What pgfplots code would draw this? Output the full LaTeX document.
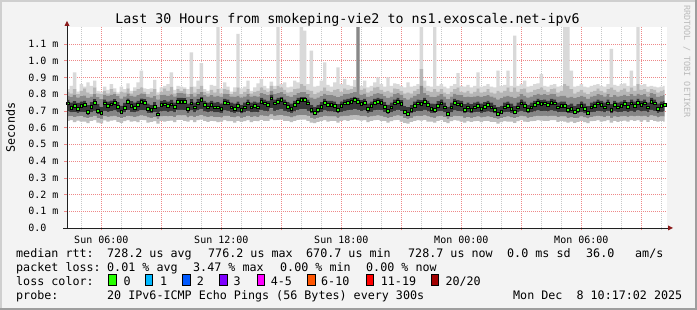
\documentclass[border=0pt]{standalone}
\usepackage{fontspec}
\setmainfont{DejaVu Sans Mono}
\usepackage{pgfplots}
\pgfplotsset{compat=1.18}
\usepackage{pgfplotstable}
\definecolor{bgc}{HTML}{F3F3F3}
\definecolor{sha}{HTML}{CFCFCF}
\definecolor{shb}{HTML}{9E9E9E}
\definecolor{gridc}{HTML}{C8C8C8}
\definecolor{mgridc}{HTML}{EE8888}
\definecolor{arrowc}{HTML}{8B1A1A}
\definecolor{axisc}{HTML}{202020}
\definecolor{wmc}{HTML}{BBBBBB}
\definecolor{s1}{HTML}{BEBEBE}
\definecolor{s2}{HTML}{858585}
\definecolor{s3}{HTML}{383838}
\definecolor{s4}{HTML}{888888}
\definecolor{s5}{HTML}{B6B6B6}
\definecolor{s6}{HTML}{D9D9D9}
\definecolor{lc0}{HTML}{26FF00}
\definecolor{lc1}{HTML}{00B8FF}
\definecolor{lc2}{HTML}{0059FF}
\definecolor{lc3}{HTML}{7E00FF}
\definecolor{lc45}{HTML}{FF00FF}
\definecolor{lc610}{HTML}{FF5500}
\definecolor{lc1119}{HTML}{FF0000}
\definecolor{lc20}{HTML}{A10000}
\begin{document}
\pgfplotstableread{
m lo a b c d e hi med
260 0.640 0.665 0.695 0.765 0.790 0.815 0.830 0.745
270 0.645 0.668 0.690 0.750 0.785 0.805 0.850 0.720
280 0.632 0.662 0.692 0.758 0.795 0.830 0.930 0.730
290 0.642 0.665 0.688 0.748 0.780 0.800 0.815 0.715
300 0.635 0.667 0.694 0.756 0.788 0.820 0.860 0.730
310 0.636 0.660 0.692 0.760 0.792 0.835 0.845 0.735
320 0.626 0.655 0.675 0.735 0.778 0.810 0.870 0.695
330 0.640 0.664 0.690 0.752 0.786 0.800 0.850 0.725
340 0.645 0.670 0.700 0.770 0.800 0.840 0.880 0.750
350 0.630 0.656 0.680 0.740 0.782 0.805 0.820 0.700
360 0.625 0.652 0.672 0.725 0.770 0.800 0.815 0.690
370 0.643 0.668 0.700 0.768 0.796 0.820 0.845 0.745
380 0.636 0.664 0.694 0.756 0.790 0.805 0.825 0.730
390 0.642 0.666 0.698 0.762 0.795 0.830 0.860 0.740
400 0.645 0.670 0.702 0.770 0.800 0.815 0.835 0.750
410 0.634 0.662 0.690 0.752 0.788 0.800 0.810 0.725
420 0.628 0.655 0.678 0.730 0.775 0.815 0.845 0.695
430 0.638 0.662 0.690 0.748 0.786 0.810 0.830 0.720
440 0.645 0.670 0.705 0.775 0.805 0.835 0.865 0.755
450 0.636 0.665 0.694 0.758 0.790 0.805 0.820 0.730
460 0.638 0.662 0.690 0.750 0.786 0.820 0.840 0.720
470 0.632 0.666 0.696 0.760 0.794 0.830 0.870 0.735
480 0.646 0.672 0.705 0.775 0.805 0.840 0.940 0.755
490 0.645 0.670 0.702 0.770 0.800 0.815 0.835 0.750
500 0.630 0.660 0.688 0.745 0.784 0.800 0.830 0.715
510 0.634 0.658 0.684 0.738 0.780 0.815 0.835 0.705
520 0.638 0.663 0.692 0.752 0.788 0.830 0.885 0.725
530 0.624 0.652 0.670 0.722 0.768 0.795 0.810 0.680
540 0.640 0.666 0.696 0.760 0.794 0.815 0.840 0.735
550 0.636 0.668 0.700 0.764 0.796 0.835 0.850 0.740
560 0.640 0.665 0.694 0.756 0.790 0.820 0.860 0.730
570 0.642 0.668 0.700 0.765 0.798 0.845 0.930 0.740
580 0.632 0.662 0.690 0.750 0.786 0.805 0.825 0.725
590 0.646 0.672 0.706 0.778 0.806 0.830 0.850 0.755
600 0.646 0.672 0.706 0.778 0.806 0.820 0.845 0.755
610 0.640 0.672 0.705 0.776 0.805 0.830 0.840 0.755
620 0.636 0.660 0.688 0.745 0.784 0.800 0.830 0.715
630 0.644 0.670 0.702 0.770 0.800 0.845 1.050 0.745
640 0.632 0.662 0.690 0.750 0.786 0.810 0.845 0.721
650 0.644 0.670 0.702 0.770 0.800 0.830 0.880 0.745
660 0.648 0.675 0.710 0.785 0.812 0.850 0.985 0.765
670 0.640 0.666 0.696 0.760 0.794 0.815 0.830 0.735
680 0.634 0.662 0.690 0.750 0.786 0.805 0.820 0.721
690 0.640 0.666 0.696 0.760 0.794 0.825 0.855 0.735
700 0.638 0.662 0.690 0.750 0.786 0.810 0.850 0.721
710 0.632 0.662 0.690 0.752 0.790 0.830 1.200 0.721
720 0.636 0.660 0.688 0.745 0.784 0.805 0.835 0.715
730 0.645 0.670 0.702 0.772 0.802 0.830 0.870 0.749
740 0.638 0.670 0.700 0.768 0.800 0.825 0.845 0.745
750 0.638 0.662 0.690 0.750 0.786 0.800 0.815 0.721
760 0.630 0.660 0.688 0.745 0.784 0.815 0.840 0.715
770 0.640 0.665 0.694 0.756 0.790 0.840 1.160 0.729
780 0.634 0.658 0.684 0.738 0.780 0.800 0.835 0.705
790 0.638 0.662 0.690 0.750 0.786 0.815 0.845 0.721
800 0.644 0.670 0.700 0.768 0.800 0.830 0.880 0.745
810 0.632 0.662 0.690 0.750 0.786 0.805 0.820 0.721
820 0.640 0.665 0.694 0.756 0.790 0.815 0.840 0.729
830 0.638 0.662 0.690 0.750 0.786 0.820 0.865 0.721
840 0.646 0.672 0.706 0.778 0.806 0.840 0.890 0.755
850 0.640 0.670 0.700 0.768 0.800 0.825 0.850 0.745
860 0.640 0.666 0.696 0.760 0.794 0.815 0.835 0.735
870 0.650 0.678 0.715 0.795 0.820 0.850 0.875 0.775
880 0.644 0.670 0.700 0.768 0.800 0.830 0.850 0.745
890 0.646 0.672 0.706 0.778 0.806 0.850 1.200 0.755
900 0.648 0.675 0.710 0.785 0.812 0.840 0.860 0.765
910 0.640 0.670 0.700 0.768 0.800 0.825 0.870 0.745
920 0.640 0.665 0.694 0.755 0.790 0.810 0.840 0.725
930 0.632 0.660 0.688 0.745 0.784 0.815 0.845 0.715
940 0.640 0.666 0.696 0.760 0.794 0.830 0.880 0.735
950 0.646 0.672 0.706 0.778 0.806 0.835 0.870 0.755
960 0.648 0.675 0.710 0.785 0.812 0.860 1.200 0.765
970 0.648 0.675 0.710 0.785 0.812 0.850 1.180 0.765
980 0.640 0.670 0.700 0.768 0.800 0.825 0.860 0.745
990 0.630 0.658 0.684 0.738 0.780 0.820 1.060 0.709
1000 0.626 0.652 0.672 0.725 0.772 0.800 0.845 0.689
1010 0.634 0.658 0.684 0.738 0.780 0.810 0.850 0.705
1020 0.640 0.664 0.692 0.752 0.788 0.820 0.880 0.725
1030 0.645 0.670 0.702 0.772 0.802 0.840 0.990 0.749
1040 0.636 0.666 0.696 0.760 0.794 0.820 0.855 0.735
1050 0.640 0.666 0.696 0.760 0.794 0.815 0.845 0.735
1060 0.640 0.665 0.694 0.756 0.790 0.825 0.870 0.729
1070 0.630 0.658 0.684 0.740 0.782 0.830 0.960 0.709
1080 0.640 0.665 0.694 0.756 0.790 0.815 0.860 0.729
1090 0.644 0.670 0.700 0.768 0.800 0.835 0.890 0.745
1100 0.640 0.670 0.702 0.772 0.802 0.825 0.855 0.749
1110 0.646 0.672 0.706 0.778 0.806 0.830 0.850 0.755
1120 0.648 0.675 0.710 0.785 0.812 0.845 0.885 0.765
1130 0.646 0.672 0.706 0.778 1.200 1.200 1.200 0.755
1140 0.642 0.668 0.698 0.764 0.796 0.825 0.850 0.741
1150 0.645 0.670 0.702 0.772 0.802 0.835 0.880 0.749
1160 0.632 0.660 0.688 0.745 0.784 0.810 0.840 0.715
1170 0.640 0.665 0.694 0.756 0.790 0.820 0.850 0.729
1180 0.645 0.670 0.702 0.772 0.802 0.840 0.870 0.749
1190 0.646 0.672 0.706 0.778 0.806 0.845 0.900 0.755
1200 0.640 0.670 0.702 0.772 0.802 0.825 0.860 0.749
1210 0.640 0.664 0.692 0.752 0.788 0.815 0.845 0.725
1220 0.630 0.656 0.682 0.736 0.778 0.820 0.900 0.701
1230 0.638 0.662 0.690 0.750 0.786 0.810 0.850 0.721
1240 0.644 0.670 0.700 0.768 0.800 0.835 0.865 0.745
1250 0.646 0.672 0.706 0.778 0.806 0.830 0.860 0.755
1260 0.636 0.668 0.698 0.764 0.796 0.820 0.850 0.741
1270 0.628 0.655 0.678 0.732 0.776 0.805 0.840 0.695
1280 0.624 0.652 0.670 0.722 0.768 0.810 0.870 0.681
1290 0.634 0.658 0.684 0.738 0.780 0.805 0.845 0.705
1300 0.640 0.665 0.694 0.756 0.790 0.820 0.850 0.729
1310 0.644 0.670 0.700 0.768 0.800 0.830 0.860 0.745
1320 0.642 0.668 0.698 0.764 0.850 0.950 1.200 0.741
1330 0.646 0.672 0.706 0.778 0.806 0.840 0.880 0.755
1340 0.636 0.666 0.696 0.760 0.794 0.820 0.850 0.735
1350 0.636 0.660 0.688 0.745 0.784 0.815 0.845 0.715
1360 0.630 0.658 0.686 0.742 0.782 0.830 1.200 0.709
1370 0.640 0.665 0.695 0.758 0.792 0.815 0.850 0.730
1380 0.644 0.670 0.700 0.768 0.800 0.830 0.860 0.745
1390 0.634 0.662 0.690 0.750 0.786 0.810 0.845 0.721
1400 0.626 0.652 0.674 0.726 0.770 0.800 0.835 0.685
1410 0.638 0.662 0.690 0.750 0.786 0.815 0.850 0.721
1420 0.645 0.670 0.702 0.772 0.802 0.830 0.860 0.749
1430 0.642 0.668 0.698 0.764 0.796 0.840 0.925 0.740
1440 0.636 0.666 0.696 0.760 0.794 0.815 0.850 0.735
1450 0.630 0.658 0.684 0.740 0.782 0.810 0.845 0.709
1460 0.638 0.662 0.690 0.750 0.786 0.820 0.855 0.721
1470 0.634 0.658 0.684 0.740 0.782 0.805 0.840 0.709
1480 0.638 0.662 0.690 0.750 0.786 0.815 0.850 0.721
1490 0.640 0.665 0.694 0.756 0.790 0.835 0.930 0.729
1500 0.632 0.660 0.688 0.745 0.784 0.810 0.845 0.715
1510 0.640 0.664 0.692 0.752 0.788 0.815 0.850 0.725
1520 0.640 0.666 0.696 0.760 0.794 0.830 0.860 0.735
1530 0.634 0.662 0.690 0.750 0.786 0.810 0.845 0.721
1540 0.634 0.657 0.683 0.738 0.780 0.805 0.840 0.705
1550 0.624 0.652 0.670 0.722 0.768 0.820 0.940 0.681
1560 0.632 0.655 0.678 0.732 0.776 0.810 0.850 0.695
1570 0.638 0.662 0.690 0.750 0.786 0.820 0.855 0.721
1580 0.636 0.665 0.694 0.756 0.790 0.840 0.940 0.729
1590 0.636 0.660 0.688 0.745 0.784 0.815 0.850 0.715
1600 0.628 0.655 0.678 0.732 0.776 0.840 1.150 0.695
1610 0.638 0.662 0.690 0.750 0.786 0.815 0.850 0.721
1620 0.644 0.670 0.700 0.768 0.800 0.830 0.860 0.745
1630 0.636 0.665 0.694 0.756 0.790 0.835 0.880 0.729
1640 0.634 0.658 0.684 0.738 0.780 0.810 0.845 0.705
1650 0.638 0.662 0.690 0.750 0.786 0.815 0.850 0.721
1660 0.640 0.666 0.696 0.760 0.794 0.825 0.860 0.735
1670 0.645 0.670 0.702 0.772 0.802 0.830 0.865 0.749
1680 0.642 0.668 0.698 0.764 0.796 0.840 0.920 0.741
1690 0.640 0.670 0.700 0.768 0.800 0.825 0.850 0.745
1700 0.640 0.666 0.696 0.760 0.794 0.815 0.845 0.735
1710 0.645 0.670 0.702 0.772 0.802 0.830 0.855 0.749
1720 0.644 0.670 0.700 0.768 0.800 0.835 0.860 0.745
1730 0.634 0.662 0.690 0.750 0.786 0.810 0.845 0.721
1740 0.640 0.665 0.694 0.756 0.790 0.820 0.850 0.729
1750 0.636 0.665 0.694 0.756 0.790 0.860 1.200 0.729
1760 0.630 0.657 0.683 0.738 0.780 0.850 1.200 0.705
1770 0.636 0.660 0.687 0.744 0.784 0.830 0.940 0.715
1780 0.628 0.655 0.678 0.732 0.776 0.805 0.845 0.695
1790 0.634 0.658 0.684 0.740 0.782 0.815 0.850 0.709
1800 0.640 0.665 0.694 0.756 0.790 0.825 0.860 0.729
1810 0.632 0.660 0.688 0.745 0.784 0.810 0.845 0.715
1820 0.626 0.653 0.675 0.728 0.772 0.800 0.840 0.689
1830 0.638 0.662 0.690 0.750 0.786 0.815 0.850 0.721
1840 0.640 0.665 0.694 0.756 0.790 0.820 0.855 0.729
1850 0.644 0.670 0.700 0.768 0.800 0.835 0.860 0.745
1860 0.636 0.666 0.696 0.760 0.794 0.820 0.850 0.735
1870 0.638 0.662 0.690 0.750 0.786 0.810 0.845 0.721
1880 0.644 0.670 0.700 0.768 0.800 0.830 0.860 0.745
1890 0.630 0.658 0.684 0.740 0.782 0.840 1.070 0.709
1900 0.640 0.666 0.696 0.760 0.794 0.825 0.855 0.735
1910 0.634 0.662 0.690 0.750 0.786 0.815 0.850 0.721
1920 0.640 0.665 0.694 0.756 0.790 0.825 0.860 0.729
1930 0.642 0.668 0.698 0.764 0.796 0.835 0.865 0.741
1940 0.636 0.664 0.692 0.752 0.788 0.815 0.850 0.725
1950 0.644 0.670 0.700 0.768 0.800 0.840 0.940 0.745
1960 0.640 0.665 0.694 0.756 0.790 0.820 0.850 0.729
1970 0.645 0.670 0.702 0.772 0.802 0.860 1.200 0.749
1980 0.636 0.666 0.696 0.760 0.794 0.825 0.855 0.735
1990 0.644 0.670 0.700 0.768 0.800 0.830 0.860 0.745
2000 0.634 0.662 0.690 0.750 0.786 0.815 0.845 0.721
2010 0.646 0.672 0.706 0.778 0.806 0.830 0.850 0.755
2020 0.640 0.670 0.700 0.768 0.800 0.825 0.845 0.745
2030 0.636 0.660 0.688 0.745 0.784 0.810 0.840 0.715
2040 0.640 0.665 0.694 0.756 0.790 0.820 0.845 0.729
2050 0.636 0.666 0.696 0.760 0.794 0.825 0.850 0.735
}\smoke
\begin{tikzpicture}[x=1pt,y=1pt]
\fill[shb] (0,0) rectangle (697,310);
\fill[sha] (0,2) rectangle (695,310);
\fill[bgc] (2,2) rectangle (695,308);
\begin{axis}[
  at={(67pt,82pt)}, anchor=south west,
  scale only axis, width=600pt, height=200.8pt,
  xmin=257, xmax=2057, ymin=0, ymax=1.2,
  axis lines*=left, axis line style={draw=none},
  axis background/.style={fill=white},
  xtick={360,540,720,900,1080,1260,1440,1620,1800,1980},
  xticklabels={Sun 06:00,,Sun 12:00,,Sun 18:00,,Mon 00:00,,Mon 06:00,},
  minor xtick={300,420,480,600,660,780,840,960,1020,1140,1200,1320,1380,1500,1560,1680,1740,1860,1920,2040},
  ytick={0,0.1,0.2,0.3,0.4,0.5,0.6,0.7,0.8,0.9,1.0,1.1},
  yticklabels={0.0,0.1 m,0.2 m,0.3 m,0.4 m,0.5 m,0.6 m,0.7 m,0.8 m,0.9 m,1.0 m,1.1 m},
  grid=both,
  major grid style={draw=mgridc, line width=0.5pt, dash pattern=on 1pt off 1pt},
  minor grid style={draw=gridc, line width=0.5pt, dash pattern=on 1pt off 1pt},
  tick align=outside, major tick length=2.5pt, minor tick length=2pt,
  major tick style={draw=mgridc, line width=0.5pt},
  minor tick style={draw=gridc, line width=0.5pt},
  xticklabel style={font=\fontsize{10}{12}\selectfont, anchor=base, inner sep=0pt, yshift=-13pt},
  yticklabel style={font=\fontsize{10}{12}\selectfont, anchor=west, inner sep=0pt, xshift=-36.3pt},
  stack plots=y,
]
\addplot[draw=none, const plot mark mid, forget plot] table[x=m, y=lo]{\smoke};
\addplot[draw=none, fill=s1, const plot mark mid] table[x=m, y expr=\thisrow{a}-\thisrow{lo}]{\smoke} \closedcycle;
\addplot[draw=none, fill=s2, const plot mark mid] table[x=m, y expr=\thisrow{b}-\thisrow{a}]{\smoke} \closedcycle;
\addplot[draw=none, fill=s3, const plot mark mid] table[x=m, y expr=\thisrow{c}-\thisrow{b}]{\smoke} \closedcycle;
\addplot[draw=none, fill=s4, const plot mark mid] table[x=m, y expr=\thisrow{d}-\thisrow{c}]{\smoke} \closedcycle;
\addplot[draw=none, fill=s5, const plot mark mid] table[x=m, y expr=\thisrow{e}-\thisrow{d}]{\smoke} \closedcycle;
\addplot[draw=none, fill=s6, const plot mark mid] table[x=m, y expr=\thisrow{hi}-\thisrow{e}]{\smoke} \closedcycle;
\addplot[stack plots=false, black, line width=0.4pt, mark=square*, mark size=1.35pt, mark options={draw=none, fill=lc0}] table[x=m, y=med]{\smoke};
\addplot[stack plots=false, only marks, mark=square*, mark size=1.35pt, mark options={draw=none, fill=lc1}] coordinates {(320,0.695)};
\end{axis}
% axes with arrows
\draw[axisc, line width=0.6pt] (63,82) -- (669,82);
\fill[arrowc] (668,79.5) -- (673,82) -- (668,84.5) -- cycle;
\draw[axisc, line width=0.6pt] (67,82) -- (67,285);
\fill[arrowc] (64.5,284) -- (67,289) -- (69.5,284) -- cycle;
% title and labels
\node[font=\fontsize{13.3}{16}\selectfont, anchor=base, inner sep=0pt] at (347.5,286) {Last 30 Hours from smokeping-vie2 to ns1.exoscale.net-ipv6};
\node[font=\fontsize{11.7}{14}\selectfont, rotate=90, anchor=base, inner sep=0pt] at (15,182.5) {Seconds};
\node[font=\fontsize{8.5}{10}\selectfont, rotate=-90, anchor=base west, inner sep=0pt, text=wmc] at (684,305) {RRDTOOL / TOBI OETIKER};
% legend
\tikzset{lg/.style={font=\fontsize{11.7}{14}\selectfont, anchor=base west, inner sep=0pt}}
\node[lg] at (16,52) {median rtt:};
\node[lg] at (107,52) {728.2 us avg};
\node[lg] at (208,52) {776.2 us max};
\node[lg] at (306,52) {670.7 us min};
\node[lg] at (408,52) {728.7 us now};
\node[lg] at (507,52) {0.0 ms sd};
\node[lg] at (586,52) {36.0};
\node[lg] at (635,52) {am/s};
\node[lg] at (16,38) {packet loss:};
\node[lg] at (107,38) {0.01 \% avg};
\node[lg] at (193,38) {3.47 \% max};
\node[lg] at (280,38) {0.00 \% min};
\node[lg] at (366,38) {0.00 \% now};
\node[lg] at (16,24) {loss color:};
\filldraw[fill=lc0, draw=black, line width=0.8pt] (108.8,24.5) rectangle (116.2,35.5);
\node[lg] at (123.3,24) {0};
\filldraw[fill=lc1, draw=black, line width=0.8pt] (145.4,24.5) rectangle (152.8,35.5);
\node[lg] at (160,24) {1};
\filldraw[fill=lc2, draw=black, line width=0.8pt] (182.6,24.5) rectangle (190,35.5);
\node[lg] at (196.7,24) {2};
\filldraw[fill=lc3, draw=black, line width=0.8pt] (219.6,24.5) rectangle (227,35.5);
\node[lg] at (233.3,24) {3};
\filldraw[fill=lc45, draw=black, line width=0.8pt] (257,24.5) rectangle (264.4,35.5);
\node[lg] at (270.7,24) {4-5};
\filldraw[fill=lc610, draw=black, line width=0.8pt] (307.6,24.5) rectangle (315,35.5);
\node[lg] at (321,24) {6-10};
\filldraw[fill=lc1119, draw=black, line width=0.8pt] (366,24.5) rectangle (373.4,35.5);
\node[lg] at (380.7,24) {11-19};
\filldraw[fill=lc20, draw=black, line width=0.8pt] (431,24.5) rectangle (438.4,35.5);
\node[lg] at (445.3,24) {20/20};
\node[lg] at (16,10) {probe:};
\node[lg] at (107,10) {20 IPv6-ICMP Echo Pings (56 Bytes) every 300s};
\node[lg] at (513,10) {Mon Dec\ \ 8 10:17:02 2025};
\pgfresetboundingbox
\path[use as bounding box] (0,0) rectangle (697,310);
\end{tikzpicture}
\end{document}
